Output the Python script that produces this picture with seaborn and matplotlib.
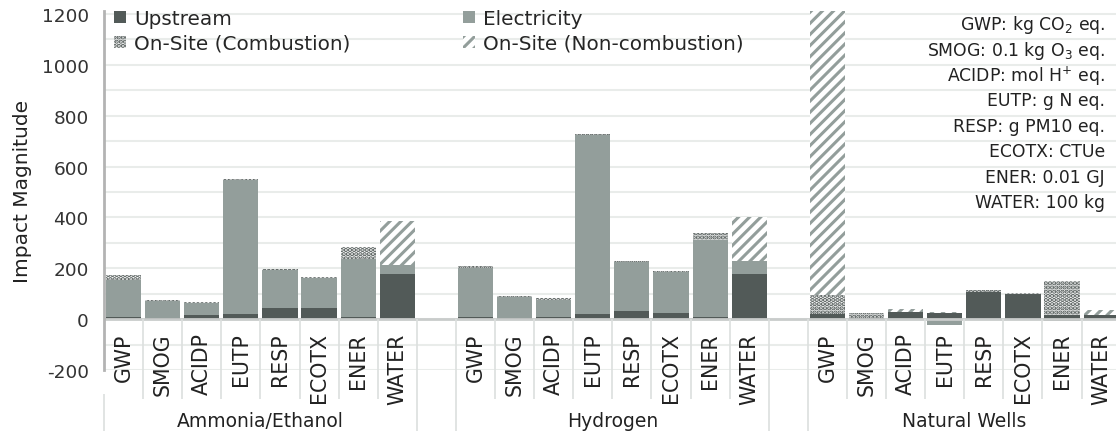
import numpy as np
import pandas as pd
import matplotlib
matplotlib.use("Agg")
import matplotlib.pyplot as plt
from matplotlib.patches import Patch
from matplotlib.ticker import MultipleLocator
import seaborn as sns

# categories and groups
categories = ["GWP", "SMOG", "ACIDP", "EUTP", "RESP", "ECOTX", "ENER", "WATER"]
groups = ["Ammonia/Ethanol", "Hydrogen", "Natural Wells"]

# impact values (one list per group, in category order)
upstream_ae = [10, 3, 15, 20, 42, 42, 10, 178]
upstream_h = [8, 3, 10, 20, 33, 26, 10, 178]
upstream_nw = [20, 3, 30, 24, 108, 100, 18, 15]

electricity_ae = [145, 67, 49, 527, 150, 118, 228, 36]
electricity_h = [192, 86, 66, 703, 192, 160, 300, 52]
electricity_nw = [2, 0, 0, -22, 0, 0, -6, 0]

combustion_ae = [18, 6, 3, 6, 4, 4, 45, 0]
combustion_h = [8, 4, 7, 6, 4, 4, 30, 0]
combustion_nw = [72, 20, 0, 0, 5, 4, 133, 0]

noncombustion_ae = [0, 0, 0, 0, 0, 0, 0, 172]
noncombustion_h = [0, 0, 0, 0, 0, 0, 0, 170]
noncombustion_nw = [1150, 0, 8, 6, 0, 0, 0, 20]

units = ["GWP: kg CO$_2$ eq.", "SMOG: 0.1 kg O$_3$ eq.", "ACIDP: mol H$^{+}$ eq.",
         "EUTP: g N eq.", "RESP: g PM10 eq.", "ECOTX: CTUe", "ENER: 0.01 GJ",
         "WATER: 100 kg"]

DARK = "#525a58"
ELEC = "#939e9b"

# build one long table, one row per bar, with a blank slot between groups
rows = []
for g, (up, el, co, nc) in enumerate([
        (upstream_ae, electricity_ae, combustion_ae, noncombustion_ae),
        (upstream_h, electricity_h, combustion_h, noncombustion_h),
        (upstream_nw, electricity_nw, combustion_nw, noncombustion_nw)]):
    for i, cat in enumerate(categories):
        rows.append({"group": groups[g], "category": cat, "pos": g * 9 + i,
                     "Upstream": up[i], "Electricity": el[i],
                     "Combustion": co[i], "NonCombustion": nc[i]})
df = pd.DataFrame(rows).sort_values("pos").reset_index(drop=True)

# stacking bottoms (negative electricity hangs below zero)
df["b_up"] = 0.0
df["b_el"] = np.where(df["Electricity"] >= 0, df["Upstream"], 0)
df["b_co"] = df["Upstream"] + df["Electricity"].clip(lower=0)
df["b_nc"] = df["b_co"] + df["Combustion"]

sns.set_style("white")
plt.rcParams["font.family"] = ["DejaVu Sans"]
plt.rcParams["axes.unicode_minus"] = False
plt.rcParams["hatch.linewidth"] = 2.2

fig = plt.figure(figsize=(11.16, 4.35), dpi=100)
ax = fig.add_axes([104 / 1116, 64 / 435, 1012 / 1116, 359 / 435])

layers = [
    ("Upstream", "b_up", DARK, DARK, None),
    ("Electricity", "b_el", ELEC, ELEC, None),
    ("Combustion", "b_co", "#f4f5f5", DARK, "...."),
    ("NonCombustion", "b_nc", "#ffffff", ELEC, "///"),
]
for col, bcol, face, edge, hatch in layers:
    sns.barplot(data=df, x="pos", y=col, native_scale=True, width=0.9,
                errorbar=None, saturation=1, color=face, edgecolor=edge,
                linewidth=0, hatch=hatch, bottom=df[bcol].values, ax=ax)

ax.set_xlim(-0.5, 25.38)
ax.set_ylim(-200, 1212)
ax.set_xticks([])
ax.set_xlabel("")
ax.set_yticks(range(-200, 1201, 200))
ax.yaxis.set_minor_locator(MultipleLocator(100))
ax.set_axisbelow(True)
ax.grid(axis="y", which="both", color="#e9ecea", linewidth=1.5)
ax.tick_params(axis="y", which="major", length=5, width=1.5, color="#aaaaaa",
               labelsize=13.3, labelcolor="#333333", pad=6)
ax.tick_params(axis="y", which="minor", length=0)
for s in ["top", "right", "bottom"]:
    ax.spines[s].set_visible(False)
ax.spines["left"].set_color("#b3b3b3")
ax.spines["left"].set_linewidth(2)
ax.set_ylabel("Impact Magnitude", fontsize=14.5, color="#222222", labelpad=7)
ax.axhline(0, color="#c9cccb", linewidth=2, zorder=1.5)

# category labels and separators below the zero line
for _, r in df.iterrows():
    ax.text(r["pos"], -52, r["category"], rotation=90, ha="center", va="top",
            fontsize=14.8, color="#222222")
inner = [p + 0.5 for p in df["pos"] if p % 9 != 7]
ax.vlines(inner, -315, 0, color="#dcdfde", linewidth=1.2, clip_on=False)
ax.vlines([7.5, 8.5, 16.5, 17.5], -440, 0, color="#dcdfde", linewidth=1.2, clip_on=False)
ax.vlines([-0.5], -440, -295, color="#dcdfde", linewidth=1.2, clip_on=False)
for g, name in enumerate(groups):
    ax.text(g * 9 + 3.5, -398, name, ha="center", va="center", fontsize=13.5,
            color="#222222")

# units box
for k, txt in enumerate(units):
    ax.text(25.1, 1160 - 100 * k, txt, ha="right", va="center", fontsize=12.4,
            color="#222222")

# legends
h_up = Patch(facecolor=DARK, edgecolor=DARK, linewidth=0)
h_el = Patch(facecolor=ELEC, edgecolor=ELEC, linewidth=0)
h_co = Patch(facecolor="#f4f5f5", edgecolor=DARK, linewidth=0, hatch="....")
h_nc = Patch(facecolor="white", edgecolor=ELEC, linewidth=0, hatch="///")
leg_kw = dict(loc="upper left", frameon=False, fontsize=14.4, handlelength=0.6,
              handleheight=0.6, handletextpad=0.4, labelspacing=0.3, borderpad=0,
              borderaxespad=0, bbox_transform=fig.transFigure)
leg1 = ax.legend([h_up, h_co], ["Upstream", "On-Site (Combustion)"],
                 bbox_to_anchor=(114 / 1116, 1 - 10 / 435), **leg_kw)
ax.add_artist(leg1)
ax.legend([h_el, h_nc], ["Electricity", "On-Site (Non-combustion)"],
          bbox_to_anchor=(463 / 1116, 1 - 10 / 435), **leg_kw)

fig.savefig("out.png", dpi=100)
